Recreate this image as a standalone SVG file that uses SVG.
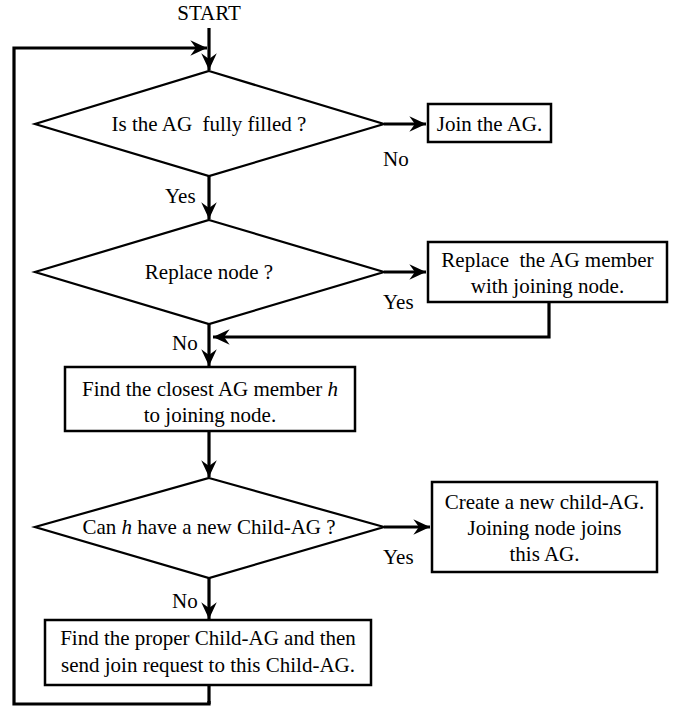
<svg xmlns="http://www.w3.org/2000/svg" width="679" height="708" viewBox="0 0 679 708">
<style>
.c{text-anchor:middle}
.shape{fill:#fff;stroke:#000;stroke-width:2.5}
.dia{fill:#fff;stroke:#000;stroke-width:2.2}
.conn{fill:none;stroke:#000;stroke-width:3.2}
</style>
<defs>
<marker id="ah" markerUnits="userSpaceOnUse" markerWidth="20" markerHeight="20" viewBox="-16 -8 18 16" refX="0" refY="0" orient="auto">
<path d="M0,0 L-15,-7 L-10,0 L-15,7 Z" fill="#000"/>
</marker>
</defs>
<g font-family="'Liberation Serif', 'Times New Roman', serif" font-size="21" fill="#000">
<text class="c" x="209" y="20">START</text>
<g id="connectors">
<path class="conn" d="M209,28 L209,70" marker-end="url(#ah)"/>
<path class="conn" d="M209,701 L209,704 L14,704 L14,48 L207,48" marker-end="url(#ah)"/>
<path class="conn" d="M384,124 L426,124" marker-end="url(#ah)"/>
<path class="conn" d="M209,176 L209,219" marker-end="url(#ah)"/>
<path class="conn" d="M384,272 L426,272" marker-end="url(#ah)"/>
<path class="conn" d="M549,302 L549,337 L213,337" marker-end="url(#ah)"/>
<path class="conn" d="M209,324 L209,366" marker-end="url(#ah)"/>
<path class="conn" d="M209,431 L209,477" marker-end="url(#ah)"/>
<path class="conn" d="M384,527 L430,527" marker-end="url(#ah)"/>
<path class="conn" d="M209,578 L209,619" marker-end="url(#ah)"/>
<path class="conn" d="M209,685 L209,704"/>
<text x="383" y="166">No</text>
<text x="165" y="203">Yes</text>
<text x="383" y="309">Yes</text>
<text x="172" y="350">No</text>
<text x="383" y="564">Yes</text>
<text x="172" y="608">No</text>
</g>
<g id="d1">
<polygon class="dia" points="209,71 384,124 209,176 35,124"/>
<text class="c" x="209" y="131" xml:space="preserve">Is the AG  fully filled ?</text>
</g>
<g id="b1">
<rect class="shape" x="428" y="104" width="123" height="38"/>
<text class="c" x="489.5" y="131">Join the AG.</text>
</g>
<g id="d2">
<polygon class="dia" points="209,220 384,272 209,324 35,272"/>
<text class="c" x="209" y="279">Replace node ?</text>
</g>
<g id="b2">
<rect class="shape" x="428" y="242" width="239" height="60"/>
<text class="c" x="547.5" y="267" xml:space="preserve">Replace  the AG member</text>
<text class="c" x="547.5" y="293">with joining node.</text>
</g>
<g id="b3">
<rect class="shape" x="65" y="367" width="290" height="64"/>
<text class="c" x="210" y="396">Find the closest AG member <tspan font-style="italic">h</tspan></text>
<text class="c" x="210" y="422">to joining node.</text>
</g>
<g id="d3">
<polygon class="dia" points="209,478 384,527 209,578 35,527"/>
<text class="c" x="209" y="534">Can <tspan font-style="italic">h</tspan> have a new Child-AG ?</text>
</g>
<g id="b4">
<rect class="shape" x="432" y="482" width="225" height="90"/>
<text class="c" x="544.5" y="509">Create a new child-AG.</text>
<text class="c" x="544.5" y="535">Joining node joins</text>
<text class="c" x="544.5" y="561">this AG.</text>
</g>
<g id="b5">
<rect class="shape" x="45" y="620" width="326" height="65"/>
<text class="c" x="208" y="645">Find the proper Child-AG and then</text>
<text class="c" x="208" y="672">send join request to this Child-AG.</text>
</g>
</g>
</svg>
